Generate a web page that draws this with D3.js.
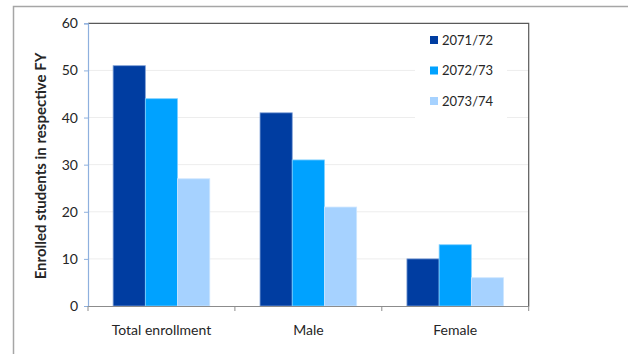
<!DOCTYPE html>
<html>
<head>
<meta charset="utf-8">
<script src="https://cdn.jsdelivr.net/npm/d3@7"></script>
<style>
  html, body { margin: 0; padding: 0; background: #fff; }
  svg { display: block; }
  text { font-family: Lato, "Open Sans", sans-serif; fill: #262626; }
</style>
</head>
<body>
<svg id="chart" width="628" height="354"></svg>
<script>
// Enrollment by fiscal year
const categories = ["Total enrollment", "Male", "Female"];
const seriesNames = ["2071/72", "2072/73", "2073/74"];
const values2071 = [51, 41, 10];
const values2072 = [44, 31, 13];
const values2073 = [27, 21, 6];
const yTicks = [0, 10, 20, 30, 40, 50, 60];
const yTitle = "Enrolled students in respective FY";

const seriesValues = [values2071, values2072, values2073];
const colors = ["#003DA1", "#00A2FF", "#A6D2FF"];
const strokes = ["#7E9FD6", "#7FD0FF", "#CDE6FF"];

const svg = d3.select("#chart");
const W = 628, H = 354;
const plot = { left: 88, right: 528.7, top: 23.3, bottom: 306 };

// outer chart frame
svg.append("rect")
  .attr("x", 13.5).attr("y", 6.5)
  .attr("width", W + 20).attr("height", H + 20)
  .attr("fill", "#fff").attr("stroke", "#A6A6A6").attr("stroke-width", 1.5);

const x0 = d3.scaleBand().domain(categories).range([plot.left, plot.right]).padding(0);
const x1 = d3.scaleBand().domain(seriesNames).range([0, x0.bandwidth()])
  .paddingInner(0).paddingOuter(0.78);
const y = d3.scaleLinear().domain([0, 60]).range([plot.bottom, plot.top]);

// gridlines
svg.append("g").selectAll("line")
  .data(yTicks.filter(t => t > 0 && t < 60))
  .join("line")
  .attr("x1", plot.left).attr("x2", plot.right)
  .attr("y1", d => y(d)).attr("y2", d => y(d))
  .attr("stroke", "#EDEDED").attr("stroke-width", 1);

// bars
const rows = categories.map((c, i) => ({
  cat: c,
  vals: seriesNames.map((s, j) => ({ s, j, v: seriesValues[j][i] }))
}));
svg.append("g").selectAll("g")
  .data(rows)
  .join("g")
  .attr("transform", d => `translate(${x0(d.cat)},0)`)
  .selectAll("rect")
  .data(d => d.vals)
  .join("rect")
  .attr("x", d => x1(d.s))
  .attr("y", d => y(d.v))
  .attr("width", x1.bandwidth())
  .attr("height", d => y(0) - y(d.v))
  .attr("fill", d => colors[d.j])
  .attr("stroke", d => strokes[d.j])
  .attr("stroke-width", 0.8);

// legend (white panel over gridlines)
const legend = svg.append("g");
legend.append("rect")
  .attr("x", 415).attr("y", 25).attr("width", 92).attr("height", 95)
  .attr("fill", "#fff");
const legItems = legend.selectAll("g")
  .data(seriesNames)
  .join("g")
  .attr("transform", (d, i) => `translate(430,${40 + i * 30.5})`);
legItems.append("rect")
  .attr("x", 0).attr("y", -4).attr("width", 8).attr("height", 8)
  .attr("fill", (d, i) => colors[i]);
legItems.append("text")
  .attr("x", 12).attr("y", 0).attr("dy", "0.36em")
  .style("font-size", "13px")
  .text(d => d);

// plot frame: top and right edges
svg.append("path")
  .attr("d", `M${plot.left},${plot.top}H${plot.right}V${plot.bottom}`)
  .attr("fill", "none").attr("stroke", "#595959").attr("stroke-width", 1.2);

// y axis
const yAxis = svg.append("g")
  .attr("transform", `translate(${plot.left},0)`)
  .call(d3.axisLeft(y).tickValues(yTicks).tickSize(4).tickPadding(6).tickFormat(d3.format("d")));
yAxis.select(".domain").attr("stroke", "#8EB0DE").attr("stroke-width", 1.2);
yAxis.selectAll(".tick line").attr("stroke", "#8EB0DE");
yAxis.selectAll(".tick text").style("font-size", "14px").attr("fill", "#262626")
  .style("font-family", "Lato, sans-serif");

// x axis
const xAxis = svg.append("g")
  .attr("transform", `translate(0,${plot.bottom})`)
  .call(d3.axisBottom(x0).tickSize(0).tickPadding(19));
xAxis.select(".domain").attr("stroke", "#8C8C8C").attr("stroke-width", 1.2);
xAxis.selectAll(".tick text").style("font-size", "14px").attr("fill", "#262626")
  .style("font-family", "Lato, sans-serif");
// category separator ticks
xAxis.append("g").selectAll("line")
  .data([...categories.map(c => x0(c)), plot.right])
  .join("line")
  .attr("x1", d => d).attr("x2", d => d)
  .attr("y1", 0).attr("y2", 5)
  .attr("stroke", "#8C8C8C");

// y axis title
svg.append("text")
  .attr("transform", `translate(41,166) rotate(-90)`)
  .attr("text-anchor", "middle")
  .attr("dy", "0.35em")
  .style("font-size", "15px")
  .style("font-weight", "bold")
  .attr("fill", "#000")
  .text(yTitle);
</script>
</body>
</html>
